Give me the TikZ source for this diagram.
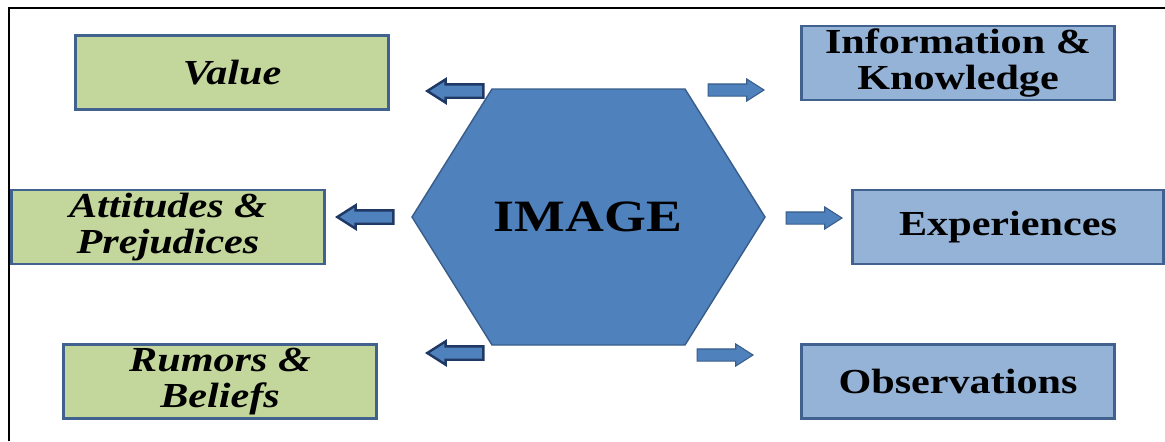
\documentclass[tikz,border=0pt]{standalone}
\usepackage{fontspec}
\setmainfont{Liberation Serif}[FakeStretch=1.2]
\usetikzlibrary{shapes,arrows,positioning}

\definecolor{boxgreen}{HTML}{C3D69B}
\definecolor{boxblue}{HTML}{95B3D7}
\definecolor{boxline}{HTML}{41628F}
\definecolor{hexblue}{HTML}{4F81BD}
\definecolor{hexline}{HTML}{385D8A}
\definecolor{navy}{HTML}{1F3864}

\begin{document}
\begin{tikzpicture}[x=0.02cm, y=-0.02cm,
    box/.style={rectangle, draw=boxline, line width=1.3pt, minimum width=6.26cm, minimum height=1.48cm, inner sep=0pt, align=center, font=\fontsize{20}{20}\selectfont\bfseries},
    greenbox/.style={box, fill=boxgreen, font=\fontsize{20}{20}\selectfont\bfseries\itshape},
    bluebox/.style={box, fill=boxblue},
    blockarrow/.style={single arrow, fill=hexblue, minimum height=1.12cm, inner xsep=0pt, inner ysep=0.11cm, single arrow head extend=0.1cm, single arrow tip angle=65, anchor=tip},
    leftarrow/.style={blockarrow, shape border rotate=180, draw=navy, line width=1.4pt},
    rightarrow/.style={blockarrow, draw=hexline, line width=0.6pt}]
  \useasboundingbox (0,0) rectangle (1165,441);

  % frame
  \draw[line width=1.2pt] (9,441) -- (9,8) -- (1165,8);

  % hexagon in the middle
  \draw[fill=hexblue, draw=hexline, line width=0.8pt] (412,217) -- (492,89) -- (685,89) -- (765,217) -- (685,345) -- (492,345) -- cycle;
  \node[font=\fontsize{25.5}{27}\selectfont\bfseries] (img) at (588,217) {IMAGE};

  % left boxes
  \node[greenbox] (val) at (232,72.5) {Value};
  \node[greenbox] (att) at (168,227) {Attitudes \&\\Prejudices};
  \node[greenbox] (rum) at (220,381.5) {Rumors \&\\Beliefs};

  % right boxes
  \node[bluebox] (inf) at (958,63) {Information \&\\Knowledge};
  \node[bluebox, minimum width=6.22cm] (exp) at (1008,227) {Experiences};
  \node[bluebox] (obs) at (958,381.5) {Observations};

  % arrows
  \node[leftarrow] (a1) at (425,91) {};
  \node[leftarrow] (a2) at (335,217) {};
  \node[leftarrow] (a3) at (425,353) {};
  \node[rightarrow] (a4) at (765,90) {};
  \node[rightarrow] (a5) at (843,218) {};
  \node[rightarrow] (a6) at (754,355) {};
\end{tikzpicture}
\end{document}
